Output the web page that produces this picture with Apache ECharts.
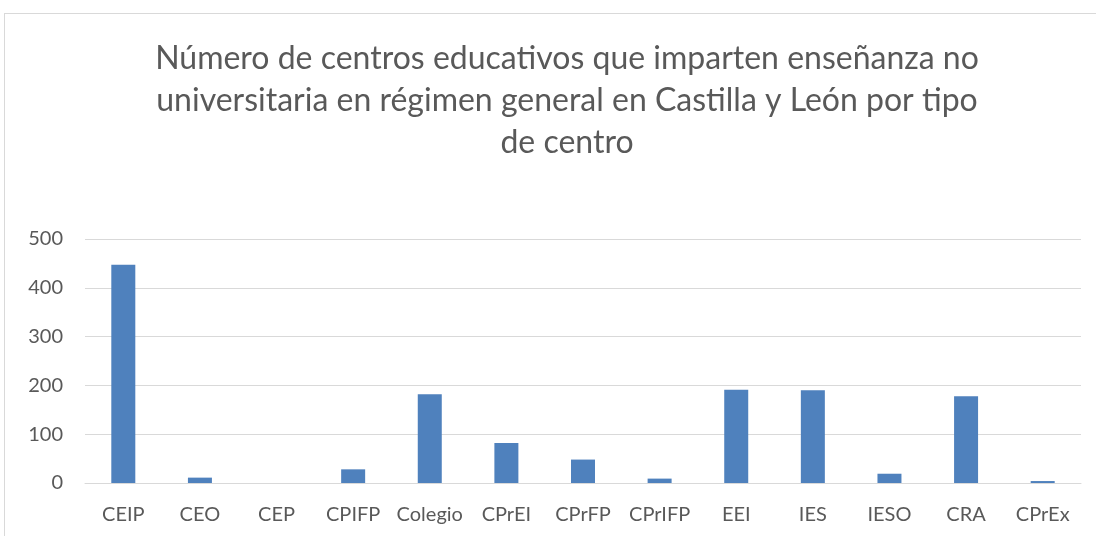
<!DOCTYPE html>
<html lang="es">
<head>
    <meta charset="UTF-8">
    <title>Centros educativos Castilla y León</title>
    <style>
        html, body { margin: 0; padding: 0; background: #fff; }
        #frame { position: absolute; left: 4px; top: 13px; width: 1100px; height: 540px; border: 1px solid #d9d9d9; }
        #main { position: absolute; left: 0; top: 0; width: 1096px; height: 536px; }
    </style>
</head>
<body>
<div id="frame"></div>
<div id="main"></div>
<script src="https://cdn.jsdelivr.net/npm/echarts@6/dist/echarts.min.js"></script>
<script>
    // datos
    var categorias = ['CEIP', 'CEO', 'CEP', 'CPIFP', 'Colegio', 'CPrEI', 'CPrFP', 'CPrIFP', 'EEI', 'IES', 'IESO', 'CRA', 'CPrEx'];
    var centros = [447, 11, 0, 28, 182, 82, 48, 9, 191, 190, 19, 178, 4];
    var ticksY = [0, 100, 200, 300, 400, 500];

    var myChart = echarts.init(document.getElementById('main'));
    var option = {
        animation: false,
        title: {
            text: 'Número de centros educativos que imparten enseñanza no\nuniversitaria en régimen general en Castilla y León por tipo\nde centro',
            left: 562,
            top: 33,
            textAlign: 'center',
            textStyle: {
                fontFamily: 'Lato',
                fontSize: 32,
                fontWeight: 'normal',
                lineHeight: 42,
                color: '#595959'
            }
        },
        grid: { left: 85, right: 15, top: 239, bottom: 53 },
        xAxis: {
            type: 'category',
            data: categorias,
            axisTick: { show: false },
            axisLine: { lineStyle: { color: '#d9d9d9', width: 1 } },
            axisLabel: { color: '#595959', fontSize: 20, fontFamily: 'Lato', margin: 22, interval: 0 }
        },
        yAxis: {
            type: 'value',
            min: ticksY[0],
            max: ticksY[ticksY.length - 1],
            interval: 100,
            axisLine: { show: false },
            axisTick: { show: false },
            splitLine: { lineStyle: { color: '#d9d9d9', width: 1 } },
            axisLabel: { color: '#595959', fontSize: 20, fontFamily: 'Lato', margin: 22 }
        },
        series: [{
            name: 'Centros',
            type: 'bar',
            data: centros,
            barWidth: 24,
            itemStyle: { color: '#4f81bd' }
        }]
    };
    myChart.setOption(option);
</script>
</body>
</html>
